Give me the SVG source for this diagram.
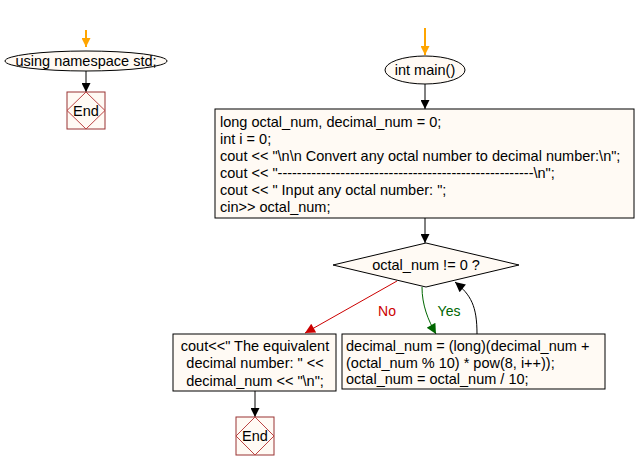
<svg xmlns="http://www.w3.org/2000/svg" width="637" height="470" viewBox="0 0 637 470">
<defs>
<style>
text{font-family:"Liberation Sans",Arial,sans-serif;font-size:14.5px;fill:#000}
.c{text-anchor:middle}
.shape{fill:#fffaf4;stroke:#000;stroke-width:1}
.endbox{fill:#fffaf4;stroke:#993333;stroke-width:1}
.enddia{fill:none;stroke:#bb4444;stroke-width:1}
.ln{fill:none;stroke:#000;stroke-width:1}
</style>
<marker id="ab" viewBox="0 0 10 10" refX="10" refY="5" markerWidth="11" markerHeight="9" markerUnits="userSpaceOnUse" orient="auto"><path d="M0,0 L10,5 L0,10 z" fill="#000"/></marker>
<marker id="ao" viewBox="0 0 10 10" refX="10" refY="5" markerWidth="11" markerHeight="9" markerUnits="userSpaceOnUse" orient="auto"><path d="M0,0 L10,5 L0,10 z" fill="#ffa500"/></marker>
<marker id="ar" viewBox="0 0 10 10" refX="10" refY="5" markerWidth="14" markerHeight="10" markerUnits="userSpaceOnUse" orient="auto"><path d="M0,0 L10,5 L0,10 z" fill="#cc0000"/></marker>
<marker id="ag" viewBox="0 0 10 10" refX="10" refY="5" markerWidth="14" markerHeight="10" markerUnits="userSpaceOnUse" orient="auto"><path d="M0,0 L10,5 L0,10 z" fill="#006600"/></marker>
<marker id="ab2" viewBox="0 0 10 10" refX="10" refY="5" markerWidth="14" markerHeight="10" markerUnits="userSpaceOnUse" orient="auto"><path d="M0,0 L10,5 L0,10 z" fill="#000"/></marker>
</defs>
<rect width="637" height="470" fill="#fff"/>
<g id="connectors">
<line x1="86" y1="30" x2="86" y2="47" stroke="#ffa500" stroke-width="2" marker-end="url(#ao)"/>
<line class="ln" x1="86" y1="71" x2="86" y2="92" marker-end="url(#ab)"/>
<line x1="425" y1="28" x2="425" y2="55" stroke="#ffa500" stroke-width="2" marker-end="url(#ao)"/>
<line class="ln" x1="425" y1="84" x2="425" y2="109" marker-end="url(#ab)"/>
<line class="ln" x1="425" y1="218" x2="425" y2="243" marker-end="url(#ab)"/>
<line x1="397" y1="281" x2="305" y2="333" stroke="#cc0000" stroke-width="1" marker-end="url(#ar)"/>
<path d="M422,287 C422,305 428,320 436,334" fill="none" stroke="#006600" stroke-width="1" marker-end="url(#ag)"/>
<path d="M477,334 C477,306 471,295 455,282" class="ln" marker-end="url(#ab2)"/>
<line class="ln" x1="255" y1="391" x2="255" y2="417" marker-end="url(#ab)"/>
<text x="387" y="316" class="c" style="fill:#cc0000;font-size:14px">No</text>
<text x="449" y="316" class="c" style="fill:#006600;font-size:14px">Yes</text>
</g>
<g id="using">
<ellipse class="shape" cx="86" cy="61" rx="81" ry="10"/>
<text x="86" y="66" class="c">using namespace std;</text>
</g>
<g id="end1">
<rect class="endbox" x="67" y="92" width="38" height="37"/>
<polygon class="enddia" points="86,92 105,110.5 86,129 67,110.5"/>
<text x="86" y="116" class="c">End</text>
</g>
<g id="main">
<ellipse class="shape" cx="425" cy="70" rx="40" ry="14"/>
<text x="425" y="75" class="c">int main()</text>
</g>
<g id="init">
<rect class="shape" x="215" y="109" width="419" height="109"/>
<text x="220" y="127">long octal_num, decimal_num = 0;</text>
<text x="220" y="144">int i = 0;</text>
<text x="220" y="161">cout &lt;&lt; "\n\n Convert any octal number to decimal number:\n";</text>
<text x="220" y="178">cout &lt;&lt; "-----------------------------------------------------\n";</text>
<text x="220" y="195">cout &lt;&lt; " Input any octal number: ";</text>
<text x="220" y="212">cin&gt;&gt; octal_num;</text>
</g>
<g id="cond">
<polygon class="shape" points="426,243 519,265 426,287 333,265"/>
<text x="426" y="270" class="c">octal_num != 0 ?</text>
</g>
<g id="output">
<rect class="shape" x="173" y="334" width="163" height="57"/>
<text x="255" y="351" class="c">cout&lt;&lt;" The equivalent</text>
<text x="255" y="368" class="c">decimal number: " &lt;&lt;</text>
<text x="255" y="386" class="c">decimal_num &lt;&lt; "\n";</text>
</g>
<g id="loop">
<rect class="shape" x="342" y="334" width="263" height="55"/>
<text x="346" y="351">decimal_num = (long)(decimal_num +</text>
<text x="346" y="368">(octal_num % 10) * pow(8, i++));</text>
<text x="346" y="384">octal_num = octal_num / 10;</text>
</g>
<g id="end2">
<rect class="endbox" x="236" y="417" width="38" height="38"/>
<polygon class="enddia" points="255,417 274,436 255,455 236,436"/>
<text x="255" y="441" class="c">End</text>
</g>
</svg>
